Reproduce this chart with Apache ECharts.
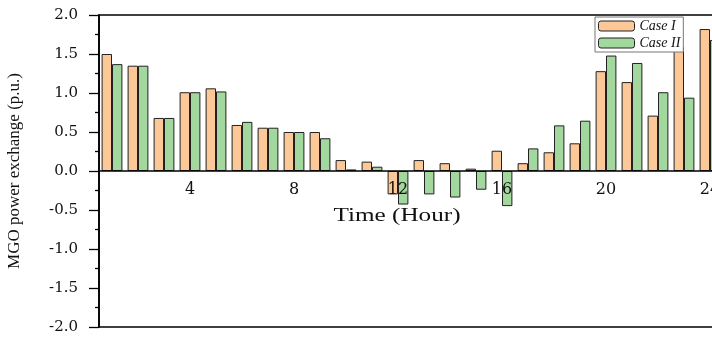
<!DOCTYPE html>
<html>
<head>
<meta charset="utf-8">
<script src="https://cdn.jsdelivr.net/npm/echarts@6/dist/echarts.min.js"></script>
<style>
html,body{margin:0;padding:0;background:#fff;}
#chart{width:712px;height:337px;}
</style>
</head>
<body>
<div id="chart"></div>
<script>
const hours = ['1','2','3','4','5','6','7','8','9','10','11','12','13','14','15','16','17','18','19','20','21','22','23','24'];
const caseI  = [1.50,1.35,0.68,1.01,1.06,0.59,0.555,0.50,0.50,0.14,0.12,-0.30,0.14,0.10,0.03,0.26,0.10,0.24,0.355,1.28,1.14,0.71,1.59,1.82];
const caseII = [1.37,1.35,0.68,1.01,1.02,0.63,0.555,0.50,0.42,0.02,0.055,-0.43,-0.30,-0.34,-0.24,-0.45,0.29,0.585,0.645,1.48,1.385,1.01,0.94,1.68];
const seriesNames = ['Case I','Case II'];
const yTicks = {min:-2, max:2, step:0.5};

const chart = echarts.init(document.getElementById('chart'));
const serif = 'Liberation Serif';
const wide = 'DejaVu Serif';
const gridTop = 15, gridHeight = 312;
// place the category axis where the value 0 sits
const zeroOffset = -gridHeight * (0 - yTicks.min) / (yTicks.max - yTicks.min);
chart.setOption({
  animation:false,
  backgroundColor:'#fff',
  grid:{left:99, top:gridTop, width:624, height:gridHeight, containLabel:false, outerBoundsMode:'none',
        show:true, borderColor:'#000', borderWidth:1.6, backgroundColor:'transparent'},
  legend:{
    data:seriesNames, orient:'vertical', left:595, top:17,
    itemWidth:36, itemHeight:10, itemGap:3, padding:[2,3,2,3],
    borderColor:'#777', borderWidth:1, backgroundColor:'#fff',
    textStyle:{fontFamily:serif, fontStyle:'italic', fontSize:14, color:'#111'},
    itemStyle:{borderColor:'#222', borderWidth:1}
  },
  xAxis:{
    type:'category', data:hours, position:'bottom', offset:zeroOffset, z:5,
    axisLine:{onZero:false, lineStyle:{color:'#000', width:1.6}},
    axisTick:{alignWithLabel:true, length:4, inside:false, interval:(i)=> (i+1)%2===0, lineStyle:{color:'#000', width:1.3}},
    axisLabel:{interval:(i)=> (i+1)%4===0, margin:11, fontFamily:wide, fontSize:16, color:'#111'},
    splitLine:{show:false}
  },
  yAxis:{
    type:'value', min:yTicks.min, max:yTicks.max, interval:yTicks.step,
    name:'MGO power exchange (p.u.)', nameLocation:'middle', nameRotate:90, nameGap:76,
    nameTextStyle:{fontFamily:serif, fontSize:17, color:'#111'},
    axisLine:{show:true, lineStyle:{color:'#000', width:1.6}},
    axisTick:{show:true, length:10, inside:false, lineStyle:{color:'#000', width:1.3}},
    minorTick:{show:true, splitNumber:2, length:4, lineStyle:{color:'#000', width:1.3}},
    axisLabel:{margin:21, fontFamily:wide, fontSize:15, color:'#111', formatter:(v)=>v.toFixed(1)},
    splitLine:{show:false}
  },
  graphic:[{
    type:'text', x:397, y:216, scaleX:1.4,
    style:{text:'Time (Hour)', x:0, y:0, align:'center', verticalAlign:'middle', font:'18px "Liberation Serif"', fill:'#111'}
  }],
  series:[{
    name:seriesNames[0], type:'bar', data:caseI, barGap:'0%', barCategoryGap:'20%',
    itemStyle:{color:'#FCC898', borderColor:'#222', borderWidth:1}
  },{
    name:seriesNames[1], type:'bar', data:caseII, barGap:'0%', barCategoryGap:'20%',
    itemStyle:{color:'#A2D79D', borderColor:'#222', borderWidth:1}
  }]
});
</script>
</body>
</html>
